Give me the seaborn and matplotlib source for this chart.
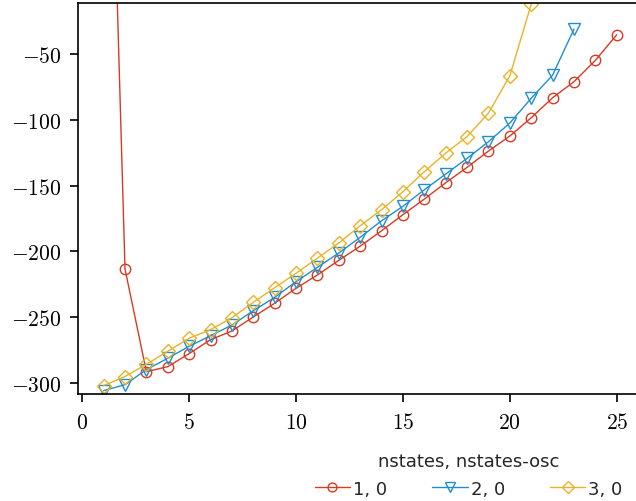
import matplotlib
matplotlib.use("Agg")
import matplotlib.pyplot as plt
from matplotlib.ticker import FuncFormatter
import seaborn as sns
import pandas as pd

# values
x_red = list(range(1, 26))
y_red = [348, -213.4, -291.4, -287.6, -277.7, -267.1, -260.5, -249.8, -239.4, -228.0,
         -217.9, -206.8, -196.0, -184.3, -172.1, -160.2, -147.8, -136.1, -123.7, -112.3,
         -98.4, -83.2, -71.0, -54.8, -35.3]
x_blue = list(range(1, 24))
y_blue = [-305.8, -301.3, -289.9, -281.2, -272.1, -264.1, -256.0, -245.1, -234.9, -223.0,
          -212.1, -201.2, -189.3, -176.7, -165.7, -153.1, -141.2, -129.3, -116.6, -102.4,
          -83.6, -66.0, -31.0]
x_yellow = list(range(1, 22))
y_yellow = [-302.0, -295.1, -285.8, -275.9, -266.0, -259.5, -250.4, -238.7, -227.6, -216.6,
            -205.2, -193.6, -180.5, -168.3, -154.6, -139.4, -125.3, -112.7, -94.8, -66.5,
            -12.0]
labels = ["1, 0", "2, 0", "3, 0"]
colors = ["#d93a22", "#1f8fd0", "#e9b327"]
markers = ["o", "v", "D"]
msizes = [7.5, 8, 7]

sns.set_style("ticks")
plt.rcParams["mathtext.fontset"] = "cm"
plt.rcParams["font.family"] = ["DejaVu Sans"]

fig = plt.figure(figsize=(6.36, 5.02), dpi=100)
ax = fig.add_axes([0.1226, 0.2131, 0.8774, 0.7789])

series = [(x_red, y_red), (x_blue, y_blue), (x_yellow, y_yellow)]
for (xs, ys), lab, c, m, ms in zip(series, labels, colors, markers, msizes):
    df = pd.DataFrame({"x": xs, "y": ys})
    sns.lineplot(data=df, x="x", y="y", ax=ax, color=c, marker=m, markersize=ms,
                 mfc="none", mec=c, mew=1.0, lw=1.0, label=lab, legend=False)

ax.set_xlim(-0.2, 25.9)
ax.set_ylim(-308.4, -11.2)
ax.set_xticks([0, 5, 10, 15, 20, 25])
ax.set_yticks([-300, -250, -200, -150, -100, -50])
fmt = FuncFormatter(lambda v, p: f"${v:.0f}$")
ax.xaxis.set_major_formatter(fmt)
ax.yaxis.set_major_formatter(fmt)
ax.tick_params(labelsize=15.5, length=6, width=1.2, direction="out", colors="black")
ax.tick_params(axis="y", pad=6)
ax.tick_params(axis="x", pad=7)
ax.set_xlabel("")
ax.set_ylabel("")
for s in ["left", "bottom", "top"]:
    ax.spines[s].set_color("black")
    ax.spines[s].set_linewidth(1.2)
ax.spines["right"].set_visible(False)

handles, labs = ax.get_legend_handles_labels()
fig.legend(handles, labs, title="nstates, nstates-osc", loc="lower center",
           bbox_to_anchor=(0.737, -0.022), ncol=3, frameon=False, fontsize=13,
           title_fontsize=13, handlelength=1.95, handletextpad=0.17, columnspacing=2.5,
           markerscale=0.85, borderpad=0.3, labelspacing=0.55)

fig.savefig("out.png", dpi=100)
